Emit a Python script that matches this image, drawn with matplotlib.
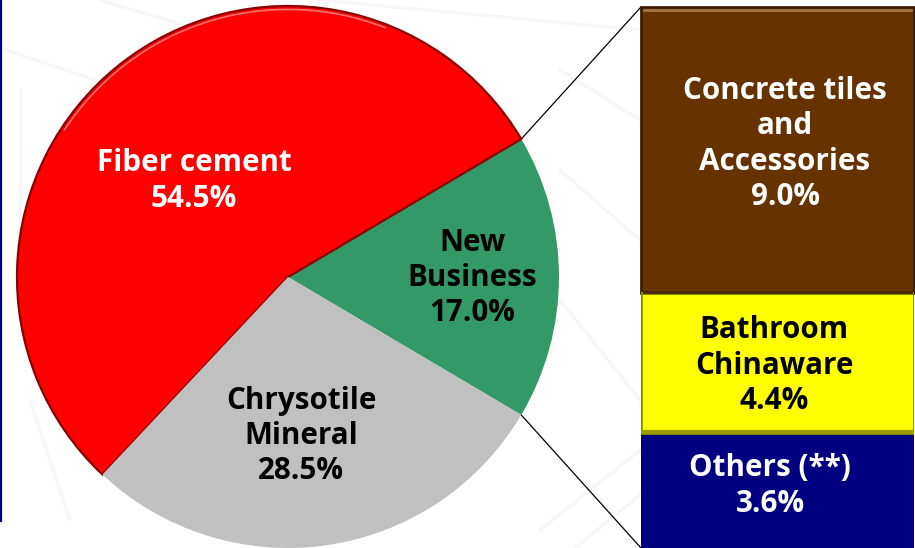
import math
import matplotlib
matplotlib.use('Agg')
import matplotlib.pyplot as plt
from matplotlib.patches import Arc, Rectangle

W, H = 915, 548

# share of revenue, %
pie_labels = ['New\nBusiness\n17.0%', 'Fiber cement\n54.5%', 'Chrysotile\nMineral\n28.5%']
pie_values = [17.0, 54.5, 28.5]
pie_colors = ['#339966', '#ff0000', '#c0c0c0']
pie_text = ['black', 'white', 'black']

# breakdown of New Business
bar_labels = ['Concrete tiles\nand\nAccessories\n9.0%', 'Bathroom\nChinaware\n4.4%', 'Others (**)\n3.6%']
bar_values = [9.0, 4.4, 3.6]
bar_colors = ['#663300', '#ffff00', '#000080']
bar_text = ['white', 'black', 'white']


def box(x0, y0, x1, y1):
    # pixel box (y from the top) -> figure fractions
    return [x0 / W, 1 - y1 / H, (x1 - x0) / W, (y1 - y0) / H]


plt.rcParams['font.family'] = ['Open Sans', 'DejaVu Sans']

fig = plt.figure(figsize=(W / 100, H / 100), dpi=100, facecolor='white')

# background layer in pixels: faint drawing + blue slide edge
bg = fig.add_axes([0, 0, 1, 1])
bg.set_xlim(0, W)
bg.set_ylim(H, 0)
bg.axis('off')
for x0, y0, x1, y1 in [(0, 48, 110, 85), (100, 0, 300, 60), (320, 0, 640, 30),
                       (20, 90, 20, 300), (560, 70, 640, 120), (560, 170, 640, 240),
                       (560, 300, 640, 400), (540, 530, 640, 450), (575, 548, 640, 495),
                       (30, 400, 70, 520), (270, 0, 330, 30)]:
    bg.plot([x0, x1], [y0, y1], color='#f8f7f7', lw=2.5, solid_capstyle='round')
bg.plot([0.7, 0.7], [0, 521], color='#000080', lw=1.6)

# main pie
ax = fig.add_axes(box(17, 6, 559, 548))
wedges, _ = ax.pie(pie_values, colors=pie_colors, radius=1, startangle=-30.6, counterclock=True)
ax.set_xlim(-1, 1)
ax.set_ylim(-1, 1)
ax.set_aspect('equal')
ax.patch.set_alpha(0)

# bevel on the red slice
red = wedges[1]
red.set_edgecolor('#8a0000')
red.set_linewidth(1.6)
ax.add_patch(Arc((0, 0), 1.975, 1.975, theta1=red.theta1 + 38, theta2=red.theta2 - 80,
                 color='#ff7070', lw=1.2))

# stacked bar
bx = fig.add_axes(box(641, 7, 914, 548))
bottom = 0
for val, col in zip(bar_values, bar_colors):
    bx.bar(0, val, width=1, bottom=bottom, color=col)
    bottom += val
bx.set_xlim(-0.5, 0.5)
bx.set_ylim(sum(bar_values), 0)
bx.axis('off')

# bevel on brown and yellow boxes
dx = 0.012
dy = 0.1
bx.add_patch(Rectangle((-0.5, 0), 1, bar_values[0], fill=False, ec='#3d1f00', lw=2, clip_on=False))
bx.plot([-0.5 + dx, 0.5 - dx], [dy, dy], color='#a8743f', lw=2)
bx.plot([-0.5 + dx, 0.5 - dx], [9.0 - dy * 0.6] * 2, color='#4a2500', lw=2)
bx.add_patch(Rectangle((-0.5, 9.0), 1, 4.4, fill=False, ec='#8c8c00', lw=2))
bx.plot([-0.5, 0.5], [13.4 - dy * 0.6] * 2, color='#9c9c00', lw=3)

# zoom lines from the green slice to the bar
for ang, yy in [(wedges[0].theta2, 7), (wedges[0].theta1, 548)]:
    px = 288 + 271 * math.cos(math.radians(ang))
    py = 277 - 271 * math.sin(math.radians(ang))
    bg.plot([px, 641], [py, yy], color='black', lw=0.9, zorder=5)

# labels (pixel positions, on top of everything)
top = fig.add_axes([0, 0, 1, 1])
top.set_xlim(0, W)
top.set_ylim(H, 0)
top.axis('off')
pie_xy = [(472, 278), (194, 181), (301, 436)]
bar_xy = [(785, 144), (774, 365.5), (770, 486)]
for (x, y), s, c in zip(pie_xy, pie_labels, pie_text):
    top.text(x, y, s, ha='center', va='center', color=c, fontsize=21.3, fontweight='bold', linespacing=1.22)
for (x, y), s, c in zip(bar_xy, bar_labels, bar_text):
    top.text(x, y, s, ha='center', va='center', color=c, fontsize=21.3, fontweight='bold', linespacing=1.22)

fig.savefig('out.png', dpi=100)
